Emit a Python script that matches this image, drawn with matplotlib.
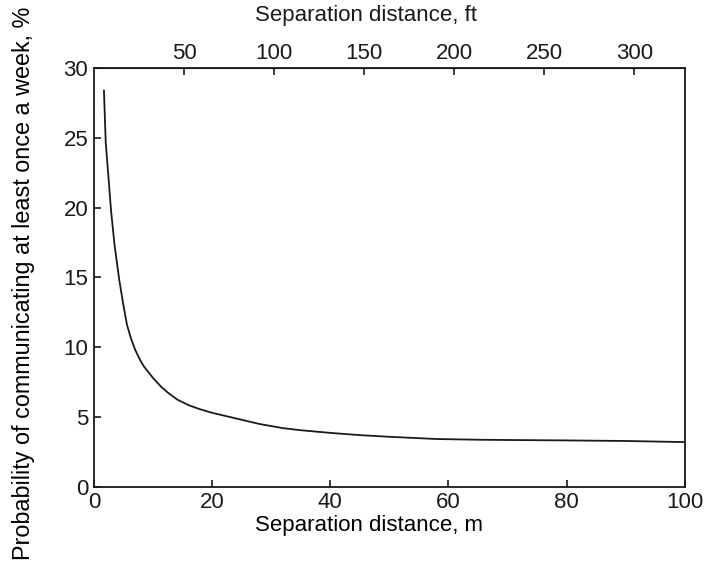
import matplotlib
matplotlib.use('Agg')
import matplotlib.pyplot as plt

# separation distance (m) vs probability of weekly communication (%)
distance_m = [1.7, 2.0, 2.5, 2.9, 3.5, 4.3, 5.0, 5.6, 6.3, 7.0, 7.8, 8.5, 10.0,
              11.3, 12.5, 14.1, 16, 18, 20, 22, 25, 28, 32, 35, 40, 45, 50,
              58, 65, 70, 80, 90, 100]
probability = [28.4, 24.7, 22.0, 19.8, 17.3, 14.8, 13.0, 11.6, 10.6, 9.8, 9.1,
               8.6, 7.8, 7.2, 6.75, 6.25, 5.85, 5.55, 5.3, 5.1, 4.8, 4.5, 4.2,
               4.05, 3.86, 3.7, 3.58, 3.42, 3.37, 3.35, 3.32, 3.28, 3.2]

x_ticks = [0, 20, 40, 60, 80, 100]
y_ticks = [0, 5, 10, 15, 20, 25, 30]
ft_ticks = [50, 100, 150, 200, 250, 300]

M_TO_FT = 3.28084

plt.rcParams['font.family'] = ['Liberation Sans', 'DejaVu Sans']

fig = plt.figure(figsize=(7.06, 5.64), dpi=100)
ax = fig.add_axes([0.133, 0.137, 0.837, 0.742])

ax.plot(distance_m, probability, color='#1a1a1a', linewidth=1.3)

ax.set_xlim(0, 100)
ax.set_ylim(0, 30)
ax.set_xticks(x_ticks)
ax.set_yticks(y_ticks)
ax.tick_params(direction='in', length=5, width=1.2, labelsize=16, pad=4,
               colors='#1a1a1a')
ax.set_xlabel('Separation distance, m', fontsize=16)
ax.xaxis.set_label_coords(0.465, -0.068)
ax.set_ylabel('Probability of communicating at least once a week, %',
              fontsize=16.8)
ax.yaxis.set_label_coords(-0.10, 0.485)
for s in ax.spines.values():
    s.set_linewidth(1.3)
    s.set_color('#1a1a1a')

top = ax.secondary_xaxis('top', functions=(lambda m: m * M_TO_FT,
                                           lambda f: f / M_TO_FT))
top.set_xticks(ft_ticks)
top.tick_params(direction='in', length=5, width=1.2, labelsize=16, pad=3,
                colors='#1a1a1a')
fig.text(0.518, 0.972, 'Separation distance, ft', fontsize=16,
         ha='center', va='center', color='#1a1a1a')

plt.savefig('out.png', dpi=100)
plt.close()
